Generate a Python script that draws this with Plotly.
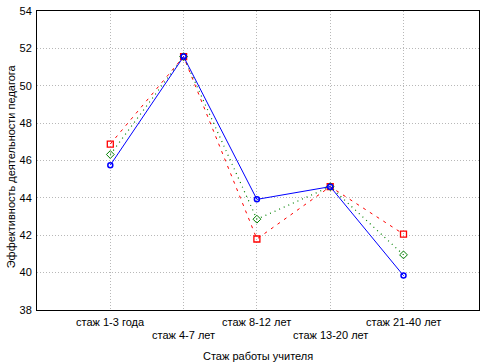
import plotly.graph_objects as go

categories = ["стаж 1-3 года", "стаж 4-7 лет", "стаж 8-12 лет", "стаж 13-20 лет", "стаж 21-40 лет"]
series_blue = [45.75, 51.56, 43.92, 44.60, 39.84]
series_green = [46.32, 51.56, 42.86, 44.60, 40.95]
series_red = [46.88, 51.56, 41.80, 44.60, 42.06]
y_ticks = [38, 40, 42, 44, 46, 48, 50, 52, 54]

xpos = list(range(len(categories)))
font = dict(family="Liberation Sans, Arial, sans-serif", size=11, color="black")

fig = go.Figure()
fig.add_trace(go.Scatter(x=xpos, y=series_red, mode="lines+markers",
                         line=dict(color="red", width=1, dash="3px,5px"),
                         marker=dict(symbol="square-open", size=6, color="red", line=dict(width=1.3))))
fig.add_trace(go.Scatter(x=xpos, y=series_green, mode="lines+markers",
                         line=dict(color="green", width=1.2, dash="1px,4px"),
                         marker=dict(symbol="diamond-open", size=6, color="green", line=dict(width=1))))
fig.add_trace(go.Scatter(x=xpos, y=series_blue, mode="lines+markers",
                         line=dict(color="blue", width=1),
                         marker=dict(symbol="circle-open", size=5, color="blue", line=dict(width=1.5))))

annotations = []
for i, c in enumerate(categories):
    annotations.append(dict(x=i, y=-0.04 if i % 2 == 0 else -0.085, xref="x", yref="paper",
                            text=c, showarrow=False, xanchor="center", yanchor="middle", font=font))
annotations.append(dict(x=0.5, y=-0.155, xref="paper", yref="paper", text="Стаж работы учителя",
                        showarrow=False, xanchor="center", yanchor="middle", font=font))
annotations.append(dict(x=-0.057, y=0.48, xref="paper", yref="paper", text="Эффективность деятельности педагога",
                        showarrow=False, textangle=-90, xanchor="center", yanchor="middle", font=font))

grid_color = "#b8b8b8"
fig.update_layout(
    width=485, height=363,
    margin=dict(l=37, r=5, t=8, b=53),
    paper_bgcolor="white", plot_bgcolor="white",
    showlegend=False,
    font=font,
    annotations=annotations,
    xaxis=dict(range=[-1, 5.03], tickvals=xpos, showticklabels=False, showgrid=True,
               gridcolor=grid_color, griddash="1px,2px", gridwidth=1, zeroline=False,
               showline=True, linecolor="black", linewidth=1, mirror=True, ticks=""),
    yaxis=dict(range=[38, 54], tickvals=y_ticks, showgrid=True, gridcolor=grid_color,
               griddash="1px,2px", gridwidth=1, zeroline=False, showline=True, linecolor="black",
               linewidth=1, mirror=True, ticks="", tickfont=font, ticklabelstandoff=2),
)

fig.write_html("out.html", config={"displayModeBar": False},
               post_script="document.body.style.margin='0';document.body.style.padding='0';")
